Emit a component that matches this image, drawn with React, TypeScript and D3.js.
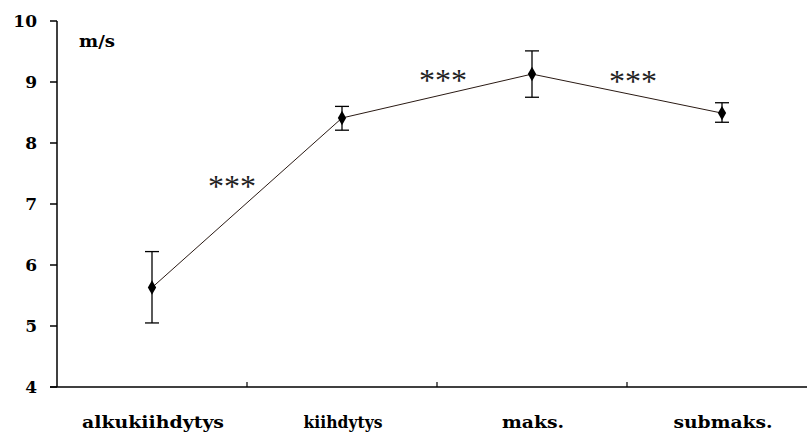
import React, { useEffect, useRef } from 'react';
import * as d3 from 'd3';

const categories = ['alkukiihdytys', 'kiihdytys', 'maks.', 'submaks.'];
const means = [5.63, 8.41, 9.13, 8.49];
const errLow = [5.05, 8.21, 8.75, 8.34];
const errHigh = [6.22, 8.6, 9.51, 8.66];
const yTicks = [4, 5, 6, 7, 8, 9, 10];
const sigLabels = ['***', '***', '***'];

const App = () => {
    const svgRef = useRef<SVGSVGElement>(null);

    useEffect(() => {
        document.body.style.margin = '0';
        const svg = d3.select(svgRef.current);
        svg.selectAll('*').remove();

        const width = 807;
        const height = 438;
        const left = 57;
        const top = 21;
        const bottom = 387;
        const font = '"DejaVu Serif", serif';

        const x = d3.scaleBand<string>()
            .domain(categories)
            .range([left, left + 4 * 190])
            .padding(0);
        const y = d3.scaleLinear().domain([4, 10]).range([bottom, top]);
        const cx = (c: string) => (x(c) as number) + x.bandwidth() / 2;

        svg.attr('width', width).attr('height', height);

        // axes
        svg.append('line')
            .attr('x1', left).attr('x2', left)
            .attr('y1', top).attr('y2', bottom)
            .attr('stroke', '#000').attr('stroke-width', 1.5);
        svg.append('line')
            .attr('x1', left - 7).attr('x2', width)
            .attr('y1', bottom).attr('y2', bottom)
            .attr('stroke', '#000').attr('stroke-width', 1.5);

        svg.selectAll('.ytick')
            .data(yTicks)
            .enter().append('line')
            .attr('x1', left - 7).attr('x2', left)
            .attr('y1', d => y(d)).attr('y2', d => y(d))
            .attr('stroke', '#000').attr('stroke-width', 1.5);

        svg.selectAll('.ylab')
            .data(yTicks)
            .enter().append('text')
            .attr('x', 37)
            .attr('y', d => y(d))
            .attr('dy', '0.36em')
            .attr('text-anchor', 'end')
            .attr('font-family', font)
            .attr('font-weight', 'bold')
            .attr('font-size', 17)
            .text(d => d);

        // x ticks at band boundaries
        svg.selectAll('.xtick')
            .data(categories.slice(1))
            .enter().append('line')
            .attr('x1', d => x(d) as number).attr('x2', d => x(d) as number)
            .attr('y1', bottom - 5).attr('y2', bottom)
            .attr('stroke', '#000').attr('stroke-width', 1.2);

        svg.selectAll('.xlab')
            .data(categories)
            .enter().append('text')
            .attr('x', d => cx(d) + 1)
            .attr('y', 428)
            .attr('text-anchor', 'middle')
            .attr('font-family', font)
            .attr('font-weight', 'bold')
            .attr('font-size', 16)
            .attr('textLength', (d, i) => [142, 79, 62, 99][i])
            .attr('lengthAdjust', 'spacingAndGlyphs')
            .text(d => d);

        svg.append('text')
            .attr('x', 79).attr('y', 47)
            .attr('font-family', font)
            .attr('font-weight', 'bold')
            .attr('font-size', 16)
            .attr('textLength', 36)
            .attr('lengthAdjust', 'spacingAndGlyphs')
            .text('m/s');

        // error bars
        const eb = svg.selectAll('.err')
            .data(categories)
            .enter().append('g');
        eb.append('line')
            .attr('x1', d => cx(d)).attr('x2', d => cx(d))
            .attr('y1', (d, i) => y(errLow[i])).attr('y2', (d, i) => y(errHigh[i]))
            .attr('stroke', '#000').attr('stroke-width', 1.3);
        eb.append('line')
            .attr('x1', d => cx(d) - 7).attr('x2', d => cx(d) + 7)
            .attr('y1', (d, i) => y(errLow[i])).attr('y2', (d, i) => y(errLow[i]))
            .attr('stroke', '#000').attr('stroke-width', 1.3);
        eb.append('line')
            .attr('x1', d => cx(d) - 7).attr('x2', d => cx(d) + 7)
            .attr('y1', (d, i) => y(errHigh[i])).attr('y2', (d, i) => y(errHigh[i]))
            .attr('stroke', '#000').attr('stroke-width', 1.3);

        // line
        const line = d3.line<number>()
            .x((d, i) => cx(categories[i]))
            .y(d => y(d));
        svg.append('path')
            .datum(means)
            .attr('d', line)
            .attr('fill', 'none')
            .attr('stroke', '#2a1a14')
            .attr('stroke-width', 1);

        // markers
        svg.selectAll('.pt')
            .data(means)
            .enter().append('path')
            .attr('d', d3.symbol().type(d3.symbolDiamond).size(60))
            .attr('transform', (d, i) => `translate(${cx(categories[i])},${y(d)})`)
            .attr('fill', '#000');

        // significance marks between points
        svg.selectAll('.sig')
            .data(sigLabels)
            .enter().append('text')
            .attr('x', (d, i) => [232, 443, 633][i])
            .attr('y', (d, i) => [197, 91, 92][i])
            .attr('text-anchor', 'middle')
            .attr('font-family', '"Liberation Serif", serif')
            .attr('font-size', 32)
            .attr('textLength', 48)
            .attr('lengthAdjust', 'spacingAndGlyphs')
            .attr('fill', '#222')
            .text(d => d);
    }, []);

    return <svg ref={svgRef} style={{ display: 'block' }}></svg>;
};

export default App;
